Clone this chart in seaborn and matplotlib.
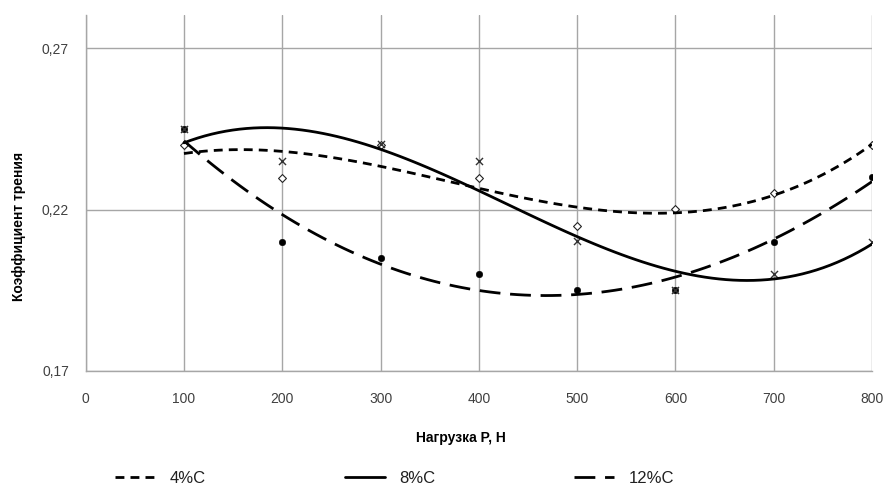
import numpy as np
import pandas as pd
import matplotlib
matplotlib.use("Agg")
import matplotlib.pyplot as plt
import seaborn as sns
from matplotlib.lines import Line2D

# ---- data ----
load = [100, 200, 300, 400, 500, 600, 700, 800]
c4 = [0.240, 0.2297, 0.2400, 0.2297, 0.2149, 0.2201, 0.2252, 0.2400]
c8 = [0.2450, 0.2350, 0.2403, 0.2350, 0.2103, 0.1950, 0.2000, 0.2100]
c12 = [0.2449, 0.2100, 0.2051, 0.2000, 0.1950, 0.1950, 0.2100, 0.2300]
series_names = ["4%C", "8%C", "12%C"]
x_ticks = [0, 100, 200, 300, 400, 500, 600, 700, 800]
y_ticks = [0.17, 0.22, 0.27]
y_tick_labels = ["0,17", "0,22", "0,27"]
x_label = "Нагрузка P, H"
y_label = "Коэффициент трения"

df = pd.DataFrame({"load": load, "4%C": c4, "8%C": c8, "12%C": c12})

sns.set_style("white")
plt.rcParams["font.family"] = ["Liberation Sans", "DejaVu Sans"]

fig = plt.figure(figsize=(8.85, 4.88), dpi=100)
ax = fig.add_axes([0.0968, 0.2398, 0.8885, 0.7292])

styles = {
    "4%C": dict(dashes=(3.2, 2.2)),
    "8%C": dict(linestyle="-"),
    "12%C": dict(dashes=(7.5, 3.5)),
}
markers = {
    "4%C": dict(marker="D", s=16, facecolor="white", edgecolor="#222222", linewidth=0.8),
    "12%C": dict(marker="o", s=22, color="black", edgecolor="black"),
    "8%C": dict(marker="x", s=26, color="#333333", linewidth=1.0),
}

# grid
ax.set_xlim(0, 800)
ax.set_ylim(0.17, 0.2802)
ax.set_xticks(x_ticks)
ax.set_yticks(y_ticks)
ax.set_yticklabels(y_tick_labels)
ax.grid(True, color="#a6a6a6", linewidth=1.0)
ax.set_axisbelow(True)

# scatter points
for name in ["4%C", "12%C", "8%C"]:
    sns.scatterplot(data=df, x="load", y=name, ax=ax, zorder=3, legend=False, **markers[name])

# polynomial trend lines
for name in series_names:
    sns.regplot(data=df, x="load", y=name, ax=ax, order=3, ci=None, scatter=False,
                truncate=True,
                line_kws=dict(color="black", linewidth=2.0, zorder=4, **styles[name]))

for s in ["top", "right"]:
    ax.spines[s].set_visible(False)
for s in ["left", "bottom"]:
    ax.spines[s].set_color("#a6a6a6")
    ax.spines[s].set_linewidth(1.0)

ax.tick_params(axis="both", length=0, labelsize=10, labelcolor="#404040")
ax.tick_params(axis="x", pad=15)
ax.tick_params(axis="y", pad=12)
ax.set_xlabel(x_label, fontsize=10, fontweight="bold", color="black")
ax.set_ylabel(y_label, fontsize=10, fontweight="bold", color="black")
ax.xaxis.set_label_coords(0.4775, -0.168)
ax.yaxis.set_label_coords(-0.076, 0.407)

handles = [Line2D([0], [0], color="black", linewidth=2.0, **styles[n]) for n in series_names]
fig.legend(handles, series_names, loc="center left", bbox_to_anchor=(0.13, 0.02),
           ncol=3, frameon=False, fontsize=12, handlelength=2.4, handletextpad=0.9,
           columnspacing=8.3, borderpad=0, borderaxespad=0, labelcolor="#202020")

fig.savefig("out.png", dpi=100)
